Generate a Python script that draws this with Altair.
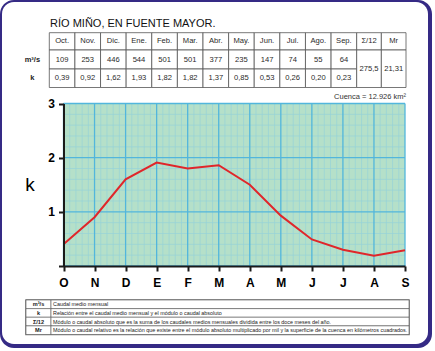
import json
import altair as alt
import pandas as pd

# ---------------- data ----------------
title_text = "RÍO MIÑO, EN FUENTE MAYOR."
month_abbr = ["Oct.", "Nov.", "Dic.", "Ene.", "Feb.", "Mar.", "Abr.", "May.", "Jun.", "Jul.", "Ago.", "Sep."]
month_letters = ["O", "N", "D", "E", "F", "M", "A", "M", "J", "J", "A", "S"]
caudal = ["109", "253", "446", "544", "501", "501", "377", "235", "147", "74", "55", "64"]
k_table = ["0,39", "0,92", "1,62", "1,93", "1,82", "1,82", "1,37", "0,85", "0,53", "0,26", "0,20", "0,23"]
k_plot = [0.40, 0.90, 1.60, 1.91, 1.80, 1.86, 1.50, 0.93, 0.49, 0.30, 0.19, 0.29]
sigma_label, sigma_value = "Σ/12", "275,5"
mr_label, mr_value = "Mr", "21,31"
row_labels = ["m³/s", "k"]
cuenca_text = "Cuenca = 12.926 km²"
y_ticks = [0, 1, 2, 3]
legend_keys = ["m³/s", "k", "Σ/12", "Mr"]
legend_texts = [
    "Caudal medio mensual",
    "Relación entre el caudal medio mensual y el módulo o caudal absoluto",
    "Módulo o caudal absoluto que es la suma de los caudales medios mensuales dividida entre los doce meses del año.",
    "Módulo o caudal relativo es la relación que existe entre el módulo absoluto  multiplicado por mil y la superficie de la cuenca en kilómetros cuadrados.",
]

# ---------------- style ----------------
FONT = "Liberation Sans"
NAVY = "#352a85"
GREEN = "#b5e0c9"
MAJOR = "#52b6dc"
MINOR = "#96d2d8"
RED = "#e0262a"
W, H = 435, 351

XS = alt.Scale(domain=[0, 11], range=[63.5, 405], nice=False, zero=False)
YS = alt.Scale(domain=[0, 3], range=[266, 103.5], nice=False, zero=False)
TX = alt.Scale(domain=[0, 12, 14], range=[49.3, 356.7, 406], nice=False, zero=False)
TY = alt.Scale(domain=[0, 1, 2, 3], range=[32.7, 50, 69, 87.5], nice=False, zero=False)
LX = alt.Scale(domain=[0, 1, 2], range=[26, 51, 409], nice=False, zero=False)
LY = alt.Scale(domain=[0, 4], range=[300, 334.5], nice=False, zero=False)

one = pd.DataFrame({"a": [0]})

# ---------------- frame ----------------
frame_shadow = alt.Chart(one).mark_rect(fill=NAVY, cornerRadius=14).encode(
    x=alt.value(0), x2=alt.value(432), y=alt.value(0), y2=alt.value(348))
frame = alt.Chart(one).mark_rect(fill="white", cornerRadius=12).encode(
    x=alt.value(2), x2=alt.value(428), y=alt.value(2), y2=alt.value(344))

# ---------------- plot ----------------
def px(f):
    return alt.X(f, scale=XS, axis=None)

def py(f):
    return alt.Y(f, scale=YS, axis=None)

bg = alt.Chart(pd.DataFrame({"x0": [0], "x1": [11], "y0": [0], "y1": [3]})).mark_rect(fill=GREEN).encode(
    x=px("x0:Q"), x2="x1:Q", y=py("y0:Q"), y2="y1:Q")

n_months = len(month_letters) - 1
mv = [j / 5 for j in range(0, n_months * 5 + 1) if j % 5]
mh = [j / 5 for j in range(0, 3 * 5 + 1) if j % 5]
minor_v = alt.Chart(pd.DataFrame({"v": mv, "y0": 0, "y1": 3})).mark_rule(color=MINOR, strokeWidth=0.7).encode(
    x=px("v:Q"), y=py("y0:Q"), y2="y1:Q")
minor_h = alt.Chart(pd.DataFrame({"h": mh, "x0": 0, "x1": n_months})).mark_rule(color=MINOR, strokeWidth=0.7).encode(
    y=py("h:Q"), x=px("x0:Q"), x2="x1:Q")
major_v = alt.Chart(pd.DataFrame({"v": list(range(n_months + 1)), "y0": 0, "y1": 3})).mark_rule(color=MAJOR, strokeWidth=1.3).encode(
    x=px("v:Q"), y=py("y0:Q"), y2="y1:Q")
major_h = alt.Chart(pd.DataFrame({"h": y_ticks, "x0": 0, "x1": n_months})).mark_rule(color=MAJOR, strokeWidth=1.3).encode(
    y=py("h:Q"), x=px("x0:Q"), x2="x1:Q")

line_df = pd.DataFrame({"i": list(range(len(k_plot))), "k": k_plot})
x_axis = alt.Axis(
    orient="bottom", offset=-85, values=list(range(len(month_letters))),
    labelExpr=json.dumps(month_letters) + "[datum.value]",
    domainColor="#1a1a1a", domainWidth=2, tickColor="#1a1a1a", tickWidth=2, tickSize=5,
    labelFont=FONT, labelFontSize=12, labelFontWeight="bold", labelColor="black",
    labelPadding=6, labelFlush=False, labelOverlap=False, grid=False, title=None, zindex=2)
y_axis = alt.Axis(
    orient="left", offset=-63.5, values=y_ticks,
    labelExpr="datum.value == 0 ? '' : datum.label",
    domainColor="#1a1a1a", domainWidth=2, tickColor="#1a1a1a", tickWidth=2, tickSize=5,
    labelFont=FONT, labelFontSize=12, labelFontWeight="bold", labelColor="black",
    labelPadding=4, labelFlush=False, labelOverlap=False, grid=False,
    title="k", titleAngle=0, titleFont=FONT, titleFontSize=19, titleFontWeight="normal",
    titleColor="black", titleX=-34, titleY=190, titleAlign="center", titleBaseline="alphabetic", zindex=2)
line = alt.Chart(line_df).mark_line(color=RED, strokeWidth=2).encode(
    x=alt.X("i:Q", scale=XS, axis=x_axis), y=alt.Y("k:Q", scale=YS, axis=y_axis))

cuenca = alt.Chart(pd.DataFrame({"x": [n_months], "y": [3], "t": [cuenca_text]})).mark_text(
    align="right", baseline="alphabetic", dy=-5, dx=1, fontSize=7.5, font=FONT, color="#333").encode(
    x=px("x:Q"), y=py("y:Q"), text="t:N")

# ---------------- top table ----------------
cells = []
for c in range(len(month_abbr)):
    cells.append((c, c + 1, 0, 1, month_abbr[c]))
    cells.append((c, c + 1, 1, 2, caudal[c]))
    cells.append((c, c + 1, 2, 3, k_table[c]))
m = len(month_abbr)
cells += [(m, m + 1, 0, 1, sigma_label), (m, m + 1, 1, 3, sigma_value),
          (m + 1, m + 2, 0, 1, mr_label), (m + 1, m + 2, 1, 3, mr_value)]
cells_df = pd.DataFrame(cells, columns=["x0", "x1", "y0", "y1", "t"])
cells_df["xm"] = (cells_df.x0 + cells_df.x1) / 2
cells_df["ym"] = (cells_df.y0 + cells_df.y1) / 2

t_rect = alt.Chart(cells_df).mark_rect(fill="white", stroke="#555", strokeWidth=0.8).encode(
    x=alt.X("x0:Q", scale=TX, axis=None), x2="x1:Q", y=alt.Y("y0:Q", scale=TY, axis=None), y2="y1:Q")
t_text = alt.Chart(cells_df).mark_text(fontSize=7.6, font=FONT, color="#2a2a2a").encode(
    x=alt.X("xm:Q", scale=TX, axis=None), y=alt.Y("ym:Q", scale=TY, axis=None), text="t:N")
row_df = pd.DataFrame({"x": [-0.66, -0.66], "y": [1.5, 2.5], "t": row_labels})
t_rows = alt.Chart(row_df).mark_text(fontSize=7.5, font=FONT, fontWeight="bold", color="#222").encode(
    x=alt.X("x:Q", scale=TX, axis=None), y=alt.Y("y:Q", scale=TY, axis=None), text="t:N")
title_df = pd.DataFrame({"x": [0.03], "y": [-0.33], "t": [title_text]})
t_title = alt.Chart(title_df).mark_text(align="left", baseline="alphabetic", fontSize=11, font=FONT, color="#111").encode(
    x=alt.X("x:Q", scale=TX, axis=None), y=alt.Y("y:Q", scale=TY, axis=None), text="t:N")

# ---------------- bottom legend table ----------------
leg = []
for r, (kk, tt) in enumerate(zip(legend_keys, legend_texts)):
    leg.append((0, 1, r, r + 1, kk, 0.5, r + 0.5))
    leg.append((1, 2, r, r + 1, tt, 1.0, r + 0.5))
leg_df = pd.DataFrame(leg, columns=["x0", "x1", "y0", "y1", "t", "xm", "ym"])
l_outer = alt.Chart(pd.DataFrame({"x0": [0], "x1": [2], "y0": [0], "y1": [4]})).mark_rect(
    fill="white", stroke="#777", strokeWidth=1.6).encode(
    x=alt.X("x0:Q", scale=LX, axis=None), x2="x1:Q", y=alt.Y("y0:Q", scale=LY, axis=None), y2="y1:Q")
l_rect = alt.Chart(leg_df).mark_rect(fill="white", stroke="#555", strokeWidth=0.6).encode(
    x=alt.X("x0:Q", scale=LX, axis=None), x2="x1:Q", y=alt.Y("y0:Q", scale=LY, axis=None), y2="y1:Q")
l_keys = alt.Chart(leg_df[leg_df.x0 == 0]).mark_text(fontSize=5.6, font=FONT, fontWeight="bold", color="#222").encode(
    x=alt.X("xm:Q", scale=LX, axis=None), y=alt.Y("ym:Q", scale=LY, axis=None), text="t:N")
l_txt = alt.Chart(leg_df[leg_df.x0 == 1]).mark_text(align="left", dx=2, fontSize=5.4, font=FONT, color="#222").encode(
    x=alt.X("xm:Q", scale=LX, axis=None), y=alt.Y("ym:Q", scale=LY, axis=None), text="t:N")

chart = alt.layer(
    frame_shadow, frame, bg, minor_v, minor_h, major_v, major_h, line, cuenca,
    t_rect, t_text, t_rows, t_title, l_outer, l_rect, l_keys, l_txt,
).resolve_scale(x="independent", y="independent").properties(
    width=W, height=H, padding=0, autosize=alt.AutoSizeParams(type="none"), background="white"
).configure_view(stroke=None)

chart.save("out.html", embed_options={"renderer": "svg", "actions": False})
